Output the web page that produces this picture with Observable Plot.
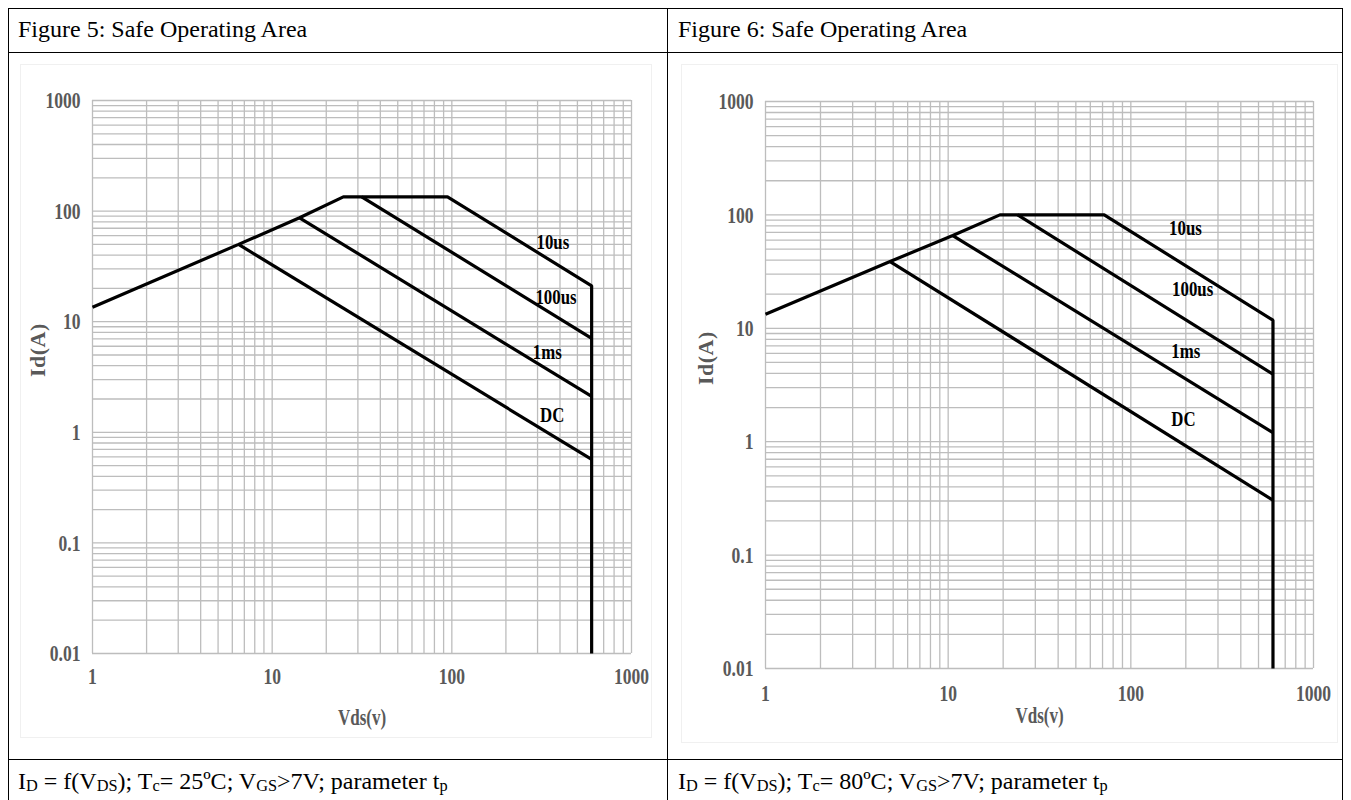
<!DOCTYPE html>
<html><head><meta charset="utf-8">
<script src="https://cdn.jsdelivr.net/npm/d3@7"></script>
<script src="https://cdn.jsdelivr.net/npm/@observablehq/plot@0.6"></script>
<style>
body{margin:0;background:#fff;}
#page{position:relative;width:1351px;height:800px;overflow:hidden;font-family:"Liberation Serif","Times New Roman",serif;background:#fff;}
.ln{position:absolute;background:#000;}
.txt{position:absolute;font-size:24px;line-height:28px;color:#000;white-space:nowrap;}
.area{position:absolute;border:1px solid #f0f0f0;}
.chart{position:absolute;}
sub{font-size:0.68em;vertical-align:-0.14em;line-height:0;}
</style></head>
<body>
<div id="page">
  <div class="area" style="left:20px;top:64px;width:630px;height:672px;"></div>
  <div class="area" style="left:681px;top:64px;width:655px;height:677px;"></div>
  <div id="chart5" class="chart" style="left:8px;top:50px;"></div>
  <div id="chart6" class="chart" style="left:668px;top:50px;"></div>
  <div class="ln" style="left:8px;top:8px;width:1335px;height:1px;"></div>
  <div class="ln" style="left:8px;top:52px;width:1335px;height:1px;"></div>
  <div class="ln" style="left:8px;top:759px;width:1335px;height:1px;"></div>
  <div class="ln" style="left:8px;top:8px;width:1px;height:800px;"></div>
  <div class="ln" style="left:667px;top:8px;width:1px;height:800px;"></div>
  <div class="ln" style="left:1342px;top:8px;width:1px;height:800px;"></div>
  <div class="txt" style="left:18px;top:15px;">Figure 5: Safe Operating Area</div>
  <div class="txt" style="left:678px;top:15px;">Figure 6: Safe Operating Area</div>
  <div class="txt" style="left:18px;top:767px;">I<sub>D</sub> = f(V<sub>DS</sub>); T<sub>c</sub>= 25ºC; V<sub>GS</sub>&gt;7V; parameter t<sub>p</sub></div>
  <div class="txt" style="left:678px;top:767px;">I<sub>D</sub> = f(V<sub>DS</sub>); T<sub>c</sub>= 80ºC; V<sub>GS</sub>&gt;7V; parameter t<sub>p</sub></div>
</div>
<script>
// ---- shared axis data ----
const xTickValues = [1, 10, 100, 1000];
const yTickValues = [0.01, 0.1, 1, 10, 100, 1000];
const xAxisTitle = "Vds(v)";
const yAxisTitle = "Id(A)";

// ---- Figure 5 (Tc = 25 C) ----
// envelope: rising limit, flat current limit, 10us power line, vertical Vds max
const fig5EnvelopeV = [1, 6.5, 14.2, 24.9, 94.6, 600, 600];
const fig5EnvelopeI = [13.5, 50, 87, 134.6, 134.6, 21.1, 0.01];
// branches: 100us, 1ms, DC
const fig5BranchStartV = [31.5, 14.2, 6.5];
const fig5BranchStartI = [134.6, 87, 50];
const fig5BranchEndV = [600, 600, 600];
const fig5BranchEndI = [7.07, 2.11, 0.568];
const fig5LabelText = ["10us", "100us", "1ms", "DC"];
const fig5LabelV = [365, 380, 340, 362];
const fig5LabelI = [51.8, 16.6, 5.3, 1.42];

// ---- Figure 6 (Tc = 80 C) ----
const fig6EnvelopeV = [1, 4.81, 10.6, 19.2, 71.5, 600, 600];
const fig6EnvelopeI = [13.3, 38.8, 65.8, 100, 100, 11.8, 0.01];
const fig6BranchStartV = [24.0, 10.6, 4.81];
const fig6BranchStartI = [100, 65.8, 38.8];
const fig6BranchEndV = [600, 600, 600];
const fig6BranchEndI = [3.94, 1.2, 0.305];
const fig6LabelText = ["10us", "100us", "1ms", "DC"];
const fig6LabelV = [199, 218, 200, 194];
const fig6LabelI = [76.3, 21.9, 6.3, 1.58];

function drawChart(cfg) {
  const env = cfg.envV.map((v, k) => ({v, i: cfg.envI[k]}));
  const branches = cfg.brStartV.map((v, k) => ({v1: v, i1: cfg.brStartI[k], v2: cfg.brEndV[k], i2: cfg.brEndI[k]}));
  const labels = cfg.labText.map((t, k) => ({t, v: cfg.labV[k], i: cfg.labI[k]}));
  const xGrid = d3.scaleLog().domain([1, 1000]).ticks();
  const yGrid = d3.scaleLog().domain([0.01, 1000]).ticks();
  const gray = "#595959";
  const svg = Plot.plot({
    width: cfg.width,
    height: cfg.height,
    marginLeft: cfg.ml, marginRight: cfg.mr, marginTop: cfg.mt, marginBottom: cfg.mb,
    x: {type: "log", domain: [1, 1000], axis: null},
    y: {type: "log", domain: [0.01, 1000], axis: null},
    style: {background: "transparent", fontFamily: "Liberation Serif, Times New Roman, serif", overflow: "visible"},
    marks: [
      Plot.ruleX(xGrid, {x: d => d, stroke: "#bdbdbd", strokeWidth: 1.3, strokeOpacity: 1}),
      Plot.ruleY(yGrid, {y: d => d, stroke: "#bdbdbd", strokeWidth: 1.3, strokeOpacity: 1}),
      Plot.line(env, {x: "v", y: "i", stroke: "#000", strokeWidth: 3.2, strokeLinejoin: "miter", strokeLinecap: "butt"}),
      Plot.link(branches, {x1: "v1", y1: "i1", x2: "v2", y2: "i2", stroke: "#000", strokeWidth: 3.2, strokeLinecap: "butt"}),
      Plot.text(labels, {x: "v", y: "i", text: "t", fontSize: 21, fontWeight: "bold", fill: "#000"}),
      Plot.text(xTickValues, {x: d => d, frameAnchor: "bottom", dy: cfg.tickDy, text: d => String(d), fontSize: 24, fontWeight: "bold", fill: gray}),
      Plot.text(yTickValues, {y: d => d, frameAnchor: "left", dx: -12, textAnchor: "end", text: d => String(d), fontSize: 24, fontWeight: "bold", fill: gray}),
      Plot.text([xAxisTitle], {frameAnchor: "bottom", dy: cfg.titleDy, text: d => d, fontSize: 23, fontWeight: "bold", fill: gray}),
      Plot.text([yAxisTitle], {frameAnchor: "left", dx: cfg.yTitleDx, rotate: -90, text: d => d, fontSize: 22, fontWeight: "bold", fill: gray})
    ]
  });
  document.getElementById(cfg.id).appendChild(svg);
  // condensed bold look of the original chart text
  svg.querySelectorAll("text").forEach(t => {
    const s = t.textContent;
    if (s === yAxisTitle) { t.setAttribute("letter-spacing", "0.5"); return; }
    const f = cfg.labText.includes(s) ? 0.8 : (s === xAxisTitle ? 0.74 : 0.73);
    const L = t.getComputedTextLength();
    if (L > 0) {
      t.setAttribute("textLength", (L * f).toFixed(2));
      t.setAttribute("lengthAdjust", "spacingAndGlyphs");
    }
  });
}

drawChart({
  id: "chart5", width: 660, height: 710, ml: 84, mr: 37, mt: 50, mb: 107,
  envV: fig5EnvelopeV, envI: fig5EnvelopeI,
  brStartV: fig5BranchStartV, brStartI: fig5BranchStartI, brEndV: fig5BranchEndV, brEndI: fig5BranchEndI,
  labText: fig5LabelText, labV: fig5LabelV, labI: fig5LabelI,
  tickDy: 30, titleDy: 71, yTitleDx: -55
});
drawChart({
  id: "chart6", width: 675, height: 710, ml: 97, mr: 30, mt: 51, mb: 92,
  envV: fig6EnvelopeV, envI: fig6EnvelopeI,
  brStartV: fig6BranchStartV, brStartI: fig6BranchStartI, brEndV: fig6BranchEndV, brEndI: fig6BranchEndI,
  labText: fig6LabelText, labV: fig6LabelV, labI: fig6LabelI,
  tickDy: 32, titleDy: 54, yTitleDx: -60
});
</script>
</body></html>
